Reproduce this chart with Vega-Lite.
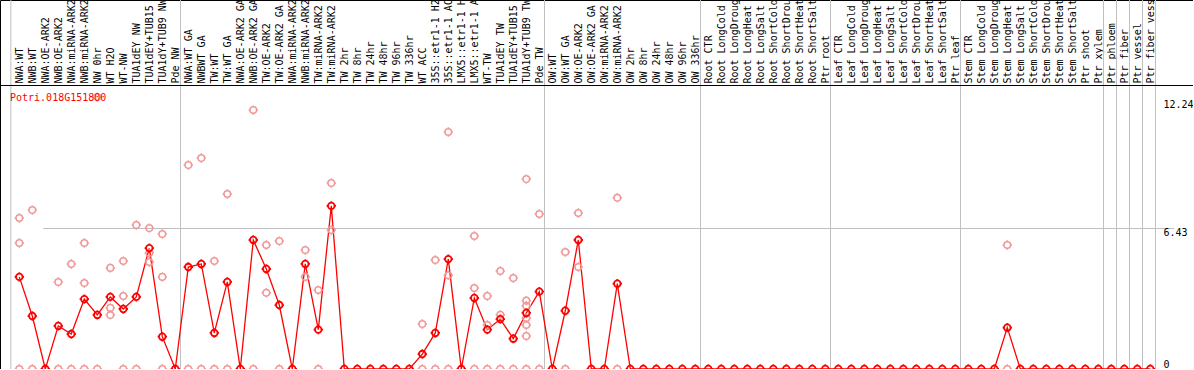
{
  "$schema": "https://vega.github.io/schema/vega-lite/v6.json",
  "width": 1193,
  "height": 369,
  "autosize": {"type": "none"},
  "padding": 0,
  "background": "white",
  "config": {
    "view": {"stroke": "black", "strokeWidth": 1},
    "font": "DejaVu Sans Mono"
  },
  "title": {
    "text": "Potri.018G151800",
    "anchor": "start",
    "frame": "group",
    "orient": "top",
    "offset": -109,
    "baseline": "middle",
    "dx": 10,
    "color": "#ff0000",
    "font": "DejaVu Sans Mono",
    "fontSize": 10,
    "fontWeight": "normal"
  },
  "datasets": {
    "samples": [
      {"k": "01|NWA:WT", "v": 4.19},
      {"k": "02|NWB:WT", "v": 2.41},
      {"k": "03|NWA:OE-ARK2", "v": 0},
      {"k": "04|NWB:OE-ARK2", "v": 1.96},
      {"k": "05|NWA:miRNA-ARK2", "v": 1.59},
      {"k": "06|NWB:miRNA-ARK2", "v": 3.18},
      {"k": "07|NW 0hr", "v": 2.46},
      {"k": "08|WT H2O", "v": 3.28},
      {"k": "09|WT-NW", "v": 2.73},
      {"k": "10|TUA1dEY NW", "v": 3.28},
      {"k": "11|TUA1dEY+TUB15", "v": 5.5},
      {"k": "12|TUA1dY+TUB9 NW", "v": 1.47},
      {"k": "13|Pde NW", "v": 0},
      {"k": "14|NWA:WT GA", "v": 4.64},
      {"k": "15|NWBWT GA", "v": 4.78},
      {"k": "16|TW:WT", "v": 1.64},
      {"k": "17|TW:WT GA", "v": 3.96},
      {"k": "18|NWA:OE-ARK2 GA", "v": 0},
      {"k": "19|NWB:OE-ARK2 GA", "v": 5.87},
      {"k": "20|TW:OE-ARK2", "v": 4.55},
      {"k": "21|TW:OE-ARK2 GA", "v": 2.91},
      {"k": "22|NWA:miRNA-ARK2", "v": 0},
      {"k": "23|NWB:miRNA-ARK2", "v": 4.78},
      {"k": "24|TW:miRNA-ARK2", "v": 1.79},
      {"k": "25|TW:miRNA-ARK2", "v": 7.42},
      {"k": "26|TW 2hr", "v": 0},
      {"k": "27|TW 8hr", "v": 0},
      {"k": "28|TW 24hr", "v": 0},
      {"k": "29|TW 48hr", "v": 0},
      {"k": "30|TW 96hr", "v": 0},
      {"k": "31|TW 336hr", "v": 0},
      {"k": "32|WT ACC", "v": 0.68},
      {"k": "33|35S::etr1-1 H2", "v": 1.64},
      {"k": "34|35S::etr1-1 AC", "v": 5.0},
      {"k": "35|LMX5::etr1-1 H", "v": 0},
      {"k": "36|LMX5::etr1-1 A", "v": 3.23},
      {"k": "37|WT-TW", "v": 1.79},
      {"k": "38|TUA1dEY TW", "v": 2.27},
      {"k": "39|TUA1dEY+TUB15", "v": 1.38},
      {"k": "40|TUA1dY+TUB9 TW", "v": 2.55},
      {"k": "41|Pde TW", "v": 3.52},
      {"k": "42|OW:WT", "v": 0},
      {"k": "43|OW:WT GA", "v": 2.65},
      {"k": "44|OW:OE-ARK2", "v": 5.87},
      {"k": "45|OW:OE-ARK2 GA", "v": 0},
      {"k": "46|OW:miRNA-ARK2", "v": 0},
      {"k": "47|OW:miRNA-ARK2", "v": 3.88},
      {"k": "48|OW 2hr", "v": 0},
      {"k": "49|OW 8hr", "v": 0},
      {"k": "50|OW 24hr", "v": 0},
      {"k": "51|OW 48hr", "v": 0},
      {"k": "52|OW 96hr", "v": 0},
      {"k": "53|OW 336hr", "v": 0},
      {"k": "54|Root CTR", "v": 0},
      {"k": "55|Root LongCold", "v": 0},
      {"k": "56|Root LongDroug", "v": 0},
      {"k": "57|Root LongHeat", "v": 0},
      {"k": "58|Root LongSalt", "v": 0},
      {"k": "59|Root ShortCold", "v": 0},
      {"k": "60|Root ShortDrou", "v": 0},
      {"k": "61|Root ShortHeat", "v": 0},
      {"k": "62|Root ShortSalt", "v": 0},
      {"k": "63|Ptr root", "v": 0},
      {"k": "64|Leaf CTR", "v": 0},
      {"k": "65|Leaf LongCold", "v": 0},
      {"k": "66|Leaf LongDroug", "v": 0},
      {"k": "67|Leaf LongHeat", "v": 0},
      {"k": "68|Leaf LongSalt", "v": 0},
      {"k": "69|Leaf ShortCold", "v": 0},
      {"k": "70|Leaf ShortDrou", "v": 0},
      {"k": "71|Leaf ShortHeat", "v": 0},
      {"k": "72|Leaf ShortSalt", "v": 0},
      {"k": "73|Ptr leaf", "v": 0},
      {"k": "74|Stem CTR", "v": 0},
      {"k": "75|Stem LongCold", "v": 0},
      {"k": "76|Stem LongDroug", "v": 0},
      {"k": "77|Stem LongHeat", "v": 1.88},
      {"k": "78|Stem LongSalt", "v": 0},
      {"k": "79|Stem ShortCold", "v": 0},
      {"k": "80|Stem ShortDrou", "v": 0},
      {"k": "81|Stem ShortHeat", "v": 0},
      {"k": "82|Stem ShortSalt", "v": 0},
      {"k": "83|Ptr shoot", "v": 0},
      {"k": "84|Ptr xylem", "v": 0},
      {"k": "85|Ptr phloem", "v": 0},
      {"k": "86|Ptr fiber", "v": 0},
      {"k": "87|Ptr vessel", "v": 0},
      {"k": "88|Ptr fiber vess", "v": 0}
    ],
    "reps": [
      {"k": "01|NWA:WT", "v": 6.87}, {"k": "01|NWA:WT", "v": 5.73}, {"k": "01|NWA:WT", "v": 0},
      {"k": "02|NWB:WT", "v": 7.23}, {"k": "02|NWB:WT", "v": 0},
      {"k": "04|NWB:OE-ARK2", "v": 3.96}, {"k": "04|NWB:OE-ARK2", "v": 0},
      {"k": "05|NWA:miRNA-ARK2", "v": 4.78}, {"k": "05|NWA:miRNA-ARK2", "v": 0},
      {"k": "06|NWB:miRNA-ARK2", "v": 5.73}, {"k": "06|NWB:miRNA-ARK2", "v": 3.91}, {"k": "06|NWB:miRNA-ARK2", "v": 0},
      {"k": "07|NW 0hr", "v": 12.37}, {"k": "07|NW 0hr", "v": 0},
      {"k": "08|WT H2O", "v": 4.6}, {"k": "08|WT H2O", "v": 2.78}, {"k": "08|WT H2O", "v": 2.46},
      {"k": "09|WT-NW", "v": 4.91}, {"k": "09|WT-NW", "v": 3.32}, {"k": "09|WT-NW", "v": 0},
      {"k": "10|TUA1dEY NW", "v": 6.55}, {"k": "10|TUA1dEY NW", "v": 0},
      {"k": "11|TUA1dEY+TUB15", "v": 6.41}, {"k": "11|TUA1dEY+TUB15", "v": 5.28}, {"k": "11|TUA1dEY+TUB15", "v": 4.87},
      {"k": "12|TUA1dY+TUB9 NW", "v": 6.14}, {"k": "12|TUA1dY+TUB9 NW", "v": 4.19}, {"k": "12|TUA1dY+TUB9 NW", "v": 0},
      {"k": "14|NWA:WT GA", "v": 9.28}, {"k": "14|NWA:WT GA", "v": 0},
      {"k": "15|NWBWT GA", "v": 9.6}, {"k": "15|NWBWT GA", "v": 0},
      {"k": "16|TW:WT", "v": 4.91}, {"k": "16|TW:WT", "v": 0},
      {"k": "17|TW:WT GA", "v": 7.96}, {"k": "17|TW:WT GA", "v": 0},
      {"k": "19|NWB:OE-ARK2 GA", "v": 11.78}, {"k": "19|NWB:OE-ARK2 GA", "v": 0},
      {"k": "20|TW:OE-ARK2", "v": 5.64}, {"k": "20|TW:OE-ARK2", "v": 3.47},
      {"k": "21|TW:OE-ARK2 GA", "v": 5.82}, {"k": "21|TW:OE-ARK2 GA", "v": 0},
      {"k": "23|NWB:miRNA-ARK2", "v": 5.41}, {"k": "23|NWB:miRNA-ARK2", "v": 4.19},
      {"k": "24|TW:miRNA-ARK2", "v": 3.59}, {"k": "24|TW:miRNA-ARK2", "v": 0},
      {"k": "25|TW:miRNA-ARK2", "v": 8.46}, {"k": "25|TW:miRNA-ARK2", "v": 6.32},
      {"k": "32|WT ACC", "v": 2.05}, {"k": "32|WT ACC", "v": 0},
      {"k": "33|35S::etr1-1 H2", "v": 4.96}, {"k": "33|35S::etr1-1 H2", "v": 0},
      {"k": "34|35S::etr1-1 AC", "v": 10.78}, {"k": "34|35S::etr1-1 AC", "v": 4.26}, {"k": "34|35S::etr1-1 AC", "v": 0},
      {"k": "36|LMX5::etr1-1 A", "v": 6.05}, {"k": "36|LMX5::etr1-1 A", "v": 3.68}, {"k": "36|LMX5::etr1-1 A", "v": 0},
      {"k": "37|WT-TW", "v": 3.32}, {"k": "37|WT-TW", "v": 2.0}, {"k": "37|WT-TW", "v": 0},
      {"k": "38|TUA1dEY TW", "v": 4.46}, {"k": "38|TUA1dEY TW", "v": 2.47}, {"k": "38|TUA1dEY TW", "v": 0},
      {"k": "39|TUA1dEY+TUB15", "v": 4.14}, {"k": "39|TUA1dEY+TUB15", "v": 0},
      {"k": "40|TUA1dY+TUB9 TW", "v": 8.64}, {"k": "40|TUA1dY+TUB9 TW", "v": 3.11}, {"k": "40|TUA1dY+TUB9 TW", "v": 2.88},
      {"k": "40|TUA1dY+TUB9 TW", "v": 2.32}, {"k": "40|TUA1dY+TUB9 TW", "v": 2.0}, {"k": "40|TUA1dY+TUB9 TW", "v": 1.5}, {"k": "40|TUA1dY+TUB9 TW", "v": 0},
      {"k": "41|Pde TW", "v": 7.05}, {"k": "41|Pde TW", "v": 0},
      {"k": "43|OW:WT GA", "v": 5.32}, {"k": "43|OW:WT GA", "v": 0},
      {"k": "44|OW:OE-ARK2", "v": 7.1}, {"k": "44|OW:OE-ARK2", "v": 4.64},
      {"k": "47|OW:miRNA-ARK2", "v": 7.79}, {"k": "47|OW:miRNA-ARK2", "v": 0},
      {"k": "77|Stem LongHeat", "v": 5.64}, {"k": "77|Stem LongHeat", "v": 0}
    ],
    "bounds": [
      {"pos": 0.35}, {"pos": 13.4}, {"pos": 41.4}, {"pos": 53.4}, {"pos": 63.4},
      {"pos": 73.4}, {"pos": 84.4}, {"pos": 85.4}, {"pos": 86.4}, {"pos": 87.4}, {"pos": 88.4}
    ]
  },
  "resolve": {"scale": {"x": "independent"}, "axis": {"x": "independent"}},
  "layer": [
    {
      "data": {"name": "bounds"},
      "mark": {"type": "rule", "color": "#c0c0c0", "strokeWidth": 1},
      "encoding": {
        "x": {
          "field": "pos",
          "type": "quantitative",
          "scale": {"domain": [-0.485, 91.285], "nice": false, "zero": false},
          "axis": {
            "orient": "top",
            "offset": -85,
            "domain": true,
            "domainColor": "black",
            "domainWidth": 1,
            "ticks": false,
            "labels": false,
            "grid": false,
            "title": null,
            "zindex": 2
          }
        }
      }
    },
    {
      "layer": [
        {
          "data": {"name": "samples"},
          "mark": {"type": "line", "color": "#ff0000", "strokeWidth": 1.3},
          "encoding": {
            "x": {"field": "k", "type": "ordinal"},
            "y": {"field": "v", "type": "quantitative"}
          }
        },
        {
          "data": {"name": "reps"},
          "mark": {
            "type": "point",
            "shape": "M0.7,0A0.7,0.7,0,1,1,-0.7,0A0.7,0.7,0,1,1,0.7,0M0,-0.7L0,-1M0,0.7L0,1M-0.7,0L-1,0M0.7,0L1,0",
            "filled": false,
            "color": "#f09898",
            "opacity": 1,
            "size": 88,
            "strokeWidth": 1.5
          },
          "encoding": {
            "x": {"field": "k", "type": "ordinal"},
            "y": {"field": "v", "type": "quantitative"}
          }
        },
        {
          "data": {"name": "samples"},
          "mark": {
            "type": "point",
            "shape": "M0.7,0A0.7,0.7,0,1,1,-0.7,0A0.7,0.7,0,1,1,0.7,0M0,-0.7L0,-1M0,0.7L0,1M-0.7,0L-1,0M0.7,0L1,0",
            "filled": false,
            "color": "#ff0000",
            "opacity": 1,
            "size": 88,
            "strokeWidth": 1.8
          },
          "encoding": {
            "x": {
              "field": "k",
              "type": "ordinal",
              "scale": {"type": "point", "range": [19.3, 1150.3], "padding": 0},
              "axis": {
                "orient": "top",
                "offset": -85,
                "domain": false,
                "ticks": false,
                "tickSize": 0,
                "grid": false,
                "title": null,
                "labelAngle": 270,
                "labelAlign": "left",
                "labelBaseline": "middle",
                "labelPadding": 2,
                "labelOverlap": false,
                "labelLimit": 0,
                "labelFont": "DejaVu Sans Mono",
                "labelFontSize": 10,
                "labelColor": "black",
                "labelExpr": "substring(datum.label, 3)"
              }
            },
            "y": {
              "field": "v",
              "type": "quantitative",
              "scale": {"domain": [0, 16.788], "nice": false, "zero": false},
              "axis": {
                "orient": "right",
                "offset": -30,
                "values": [0, 6.43, 12.24],
                "domain": false,
                "ticks": false,
                "tickSize": 0,
                "labelPadding": 0,
                "labelAlign": "left",
                "labelBaseline": {"condition": {"test": "datum.value == 0", "value": "bottom"}, "value": "top"},
                "labelFont": "DejaVu Sans Mono",
                "labelFontSize": 10,
                "labelColor": "black",
                "labelExpr": "datum.value == 0 ? '0' : format(datum.value, '.2f')",
                "grid": true,
                "gridColor": "#c0c0c0",
                "gridWidth": 1,
                "gridOpacity": {"condition": {"test": "datum.value == 6.43", "value": 1}, "value": 0},
                "title": null
              }
            }
          }
        }
      ]
    }
  ]
}
